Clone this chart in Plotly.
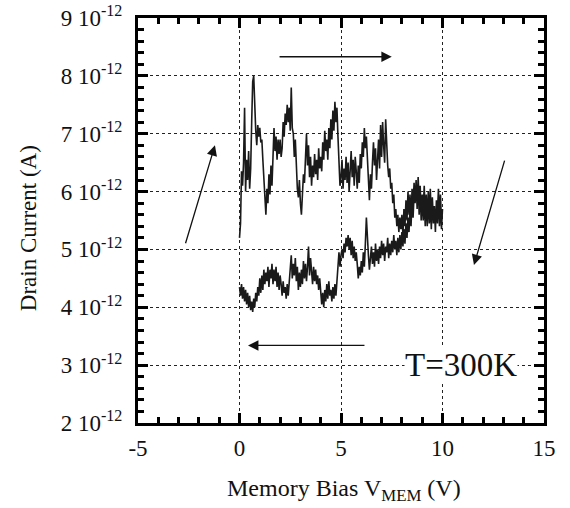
import plotly.graph_objects as go

# Memory bias sweep (V), step 0.05
bias_forward = [round(i * 0.05, 2) for i in range(201)]
bias_backward = list(reversed(bias_forward))

# Drain current, units of 1e-12 A, forward sweep 0 -> 10 V
current_forward = [
    5.20, 5.45, 6.35, 6.10, 6.50, 7.45, 6.00, 6.55, 6.20, 6.70, 6.05, 6.40, 7.20, 7.90, 8.00, 7.30, 7.05, 6.80, 7.15, 6.95,
    7.10, 6.85, 6.90, 6.55, 6.20, 5.75, 5.60, 6.05, 5.80, 6.30, 5.95, 6.45, 6.10, 6.60, 7.10, 6.70, 6.95, 6.55, 6.90, 6.65,
    6.90, 6.60, 6.75, 7.20, 6.95, 7.35, 7.15, 7.50, 7.20, 7.45, 7.05, 7.80, 7.10, 7.00, 6.60, 6.90, 6.30, 6.05, 5.90, 6.20,
    5.80, 5.60, 5.95, 6.30, 6.15, 6.55, 7.00, 6.45, 6.80, 6.25, 6.60, 6.10, 6.45, 6.25, 6.65, 6.30, 6.55, 6.20, 6.75, 6.40,
    6.60, 6.35, 6.85, 6.55, 7.05, 6.70, 6.90, 6.55, 7.10, 6.75, 7.25, 6.90, 7.40, 7.05, 7.55, 7.20, 7.45, 6.95, 6.40, 6.10,
    6.25, 6.55, 6.05, 6.40, 6.20, 6.60, 6.15, 6.50, 6.00, 6.45, 6.70, 6.25, 6.55, 6.10, 6.60, 6.35, 6.05, 6.45, 6.15, 6.65,
    6.40, 6.85, 6.60, 7.10, 6.75, 6.95, 6.55, 6.10, 5.85, 6.30, 6.05, 6.50, 6.85, 6.45, 6.75, 6.20, 6.55, 6.90, 6.40, 7.15,
    6.60, 7.20, 6.80, 6.50, 7.25, 6.70, 6.45, 6.25, 6.40, 6.05, 6.15, 5.80, 5.95, 5.55, 5.70, 5.40, 5.60, 5.30, 5.55, 5.35,
    5.60, 5.25, 5.70, 5.40, 5.85, 5.50, 6.00, 5.60, 5.95, 5.45, 6.05, 5.75, 6.15, 5.80, 6.20, 5.70, 6.25, 5.85, 6.10, 5.60,
    5.95, 5.50, 5.85, 5.40, 5.90, 5.55, 6.00, 5.45, 5.80, 5.35, 5.90, 5.50, 5.75, 5.30, 5.85, 5.45, 5.95, 5.40, 5.80, 5.35,
    5.70,
]

# Drain current, units of 1e-12 A, backward sweep 10 -> 0 V
current_backward = [
    5.70, 5.45, 5.95, 5.55, 6.05, 5.60, 5.85, 5.30, 5.75, 5.45, 5.90, 5.50, 6.05, 5.65, 5.85, 5.40, 5.95, 5.55, 6.10, 5.70,
    5.90, 5.50, 6.00, 5.60, 6.20, 5.75, 6.15, 5.80, 5.95, 5.55, 5.85, 5.40, 5.70, 5.30, 5.55, 5.20, 5.45, 5.10, 5.35, 5.05,
    5.30, 5.00, 5.25, 4.95, 5.20, 4.90, 5.15, 5.00, 5.25, 4.95, 5.15, 4.90, 5.10, 4.85, 5.20, 4.95, 5.05, 4.80, 5.10, 4.90,
    5.15, 4.85, 5.05, 4.75, 5.00, 4.80, 5.10, 4.70, 4.95, 4.75, 5.05, 4.85, 4.65, 4.90, 5.20, 5.55, 5.10, 4.70, 4.95, 4.60,
    4.80, 4.55, 4.70, 4.50, 4.75, 4.95, 4.80, 5.05, 4.85, 5.15, 4.90, 5.20, 5.00, 5.25, 5.05, 5.20, 4.95, 5.10, 4.85, 5.00,
    4.90, 4.70, 4.95, 4.60, 4.45, 4.20, 4.40, 4.15, 4.35, 4.10, 4.30, 4.20, 4.45, 4.15, 4.40, 4.10, 4.30, 4.00, 4.25, 4.05,
    4.35, 4.50, 4.30, 4.55, 4.40, 4.65, 4.45, 4.70, 4.40, 4.60, 4.85, 4.55, 5.05, 4.70, 4.45, 4.75, 4.50, 4.80, 4.40, 4.65,
    4.35, 4.60, 4.30, 4.70, 4.45, 4.85, 4.55, 4.75, 4.50, 4.90, 4.60, 4.35, 4.20, 4.40, 4.15, 4.35, 4.25, 4.45, 4.20, 4.40,
    4.55, 4.30, 4.60, 4.35, 4.70, 4.45, 4.65, 4.40, 4.75, 4.50, 4.65, 4.35, 4.70, 4.45, 4.60, 4.40, 4.65, 4.30, 4.55, 4.25,
    4.50, 4.20, 4.35, 4.10, 4.25, 4.00, 4.15, 3.92, 4.10, 3.95, 4.20, 4.00, 4.25, 4.05, 4.30, 4.10, 4.35, 4.15, 4.40, 4.20,
    4.35,
]

x_ticks = [-5, 0, 5, 10, 15]
y_ticks = [2, 3, 4, 5, 6, 7, 8, 9]
y_ticktext = [f"{v} 10<sup>-12</sup>" for v in y_ticks]

FONT = "Liberation Serif"

fig = go.Figure()
fig.add_trace(go.Scatter(x=bias_forward + bias_backward,
                         y=current_forward + current_backward,
                         mode="lines", line=dict(color="#1a1a1a", width=1.6),
                         showlegend=False, hoverinfo="skip"))

axis_common = dict(
    showline=True, linewidth=3, linecolor="black", mirror="allticks",
    ticks="inside", ticklen=10, tickwidth=2.5, tickcolor="black",
    showgrid=True, gridcolor="#222222", gridwidth=1, griddash="dot",
    zeroline=False, automargin=False,
    tickfont=dict(family=FONT, size=23, color="#111"),
)

fig.update_xaxes(range=[-5, 15], tickvals=x_ticks, ticktext=[str(v) for v in x_ticks],
                 minor=dict(dtick=1, tick0=0, ticks="inside", ticklen=6, tickwidth=2.5,
                            tickcolor="black", showgrid=False),
                 ticklabelstandoff=2, **axis_common)
fig.update_yaxes(range=[2, 9], tickvals=y_ticks, ticktext=y_ticktext,
                 minor=dict(dtick=0.2, tick0=0, ticks="inside", ticklen=6, tickwidth=2.5,
                            tickcolor="black", showgrid=False),
                 ticklabelstandoff=8, **axis_common)

# arrows (tail -> head) in data coordinates
arrows = [((1.9, 8.33), (7.5, 8.33)),
          ((-2.68, 5.08), (-1.21, 6.8)),
          ((13.08, 6.56), (11.55, 4.73)),
          ((6.23, 3.34), (0.42, 3.34))]
for (tx, ty), (hx, hy) in arrows:
    fig.add_annotation(x=hx, y=hy, ax=tx, ay=ty, xref="x", yref="y", axref="x", ayref="y",
                       showarrow=True, arrowhead=2, arrowsize=1.6, arrowwidth=1.3,
                       arrowcolor="#111", text="")

fig.add_annotation(x=10.91, y=3.0, xref="x", yref="y", text="T=300K", showarrow=False,
                   xanchor="center", yanchor="middle",
                   font=dict(family=FONT, size=33, color="#111"), bgcolor="white",
                   borderpad=0)

fig.add_annotation(x=0.507, y=-0.165, xref="paper", yref="paper",
                   xanchor="center", yanchor="middle",
                   text="Memory Bias V<sub>MEM</sub> (V)", showarrow=False,
                   font=dict(family=FONT, size=24, color="#111"))
fig.add_annotation(x=-0.271, y=0.481, xref="paper", yref="paper",
                   xanchor="center", yanchor="middle",
                   text="Drain Current (A)", showarrow=False, textangle=-90,
                   font=dict(family=FONT, size=23, color="#111"))

fig.update_layout(width=570, height=508, margin=dict(l=138, r=26, t=18, b=85),
                  paper_bgcolor="white", plot_bgcolor="white",
                  font=dict(family=FONT, color="#111"))

fig.write_html("out.html", config={"displayModeBar": False},
               post_script="document.body.style.margin='0';")
